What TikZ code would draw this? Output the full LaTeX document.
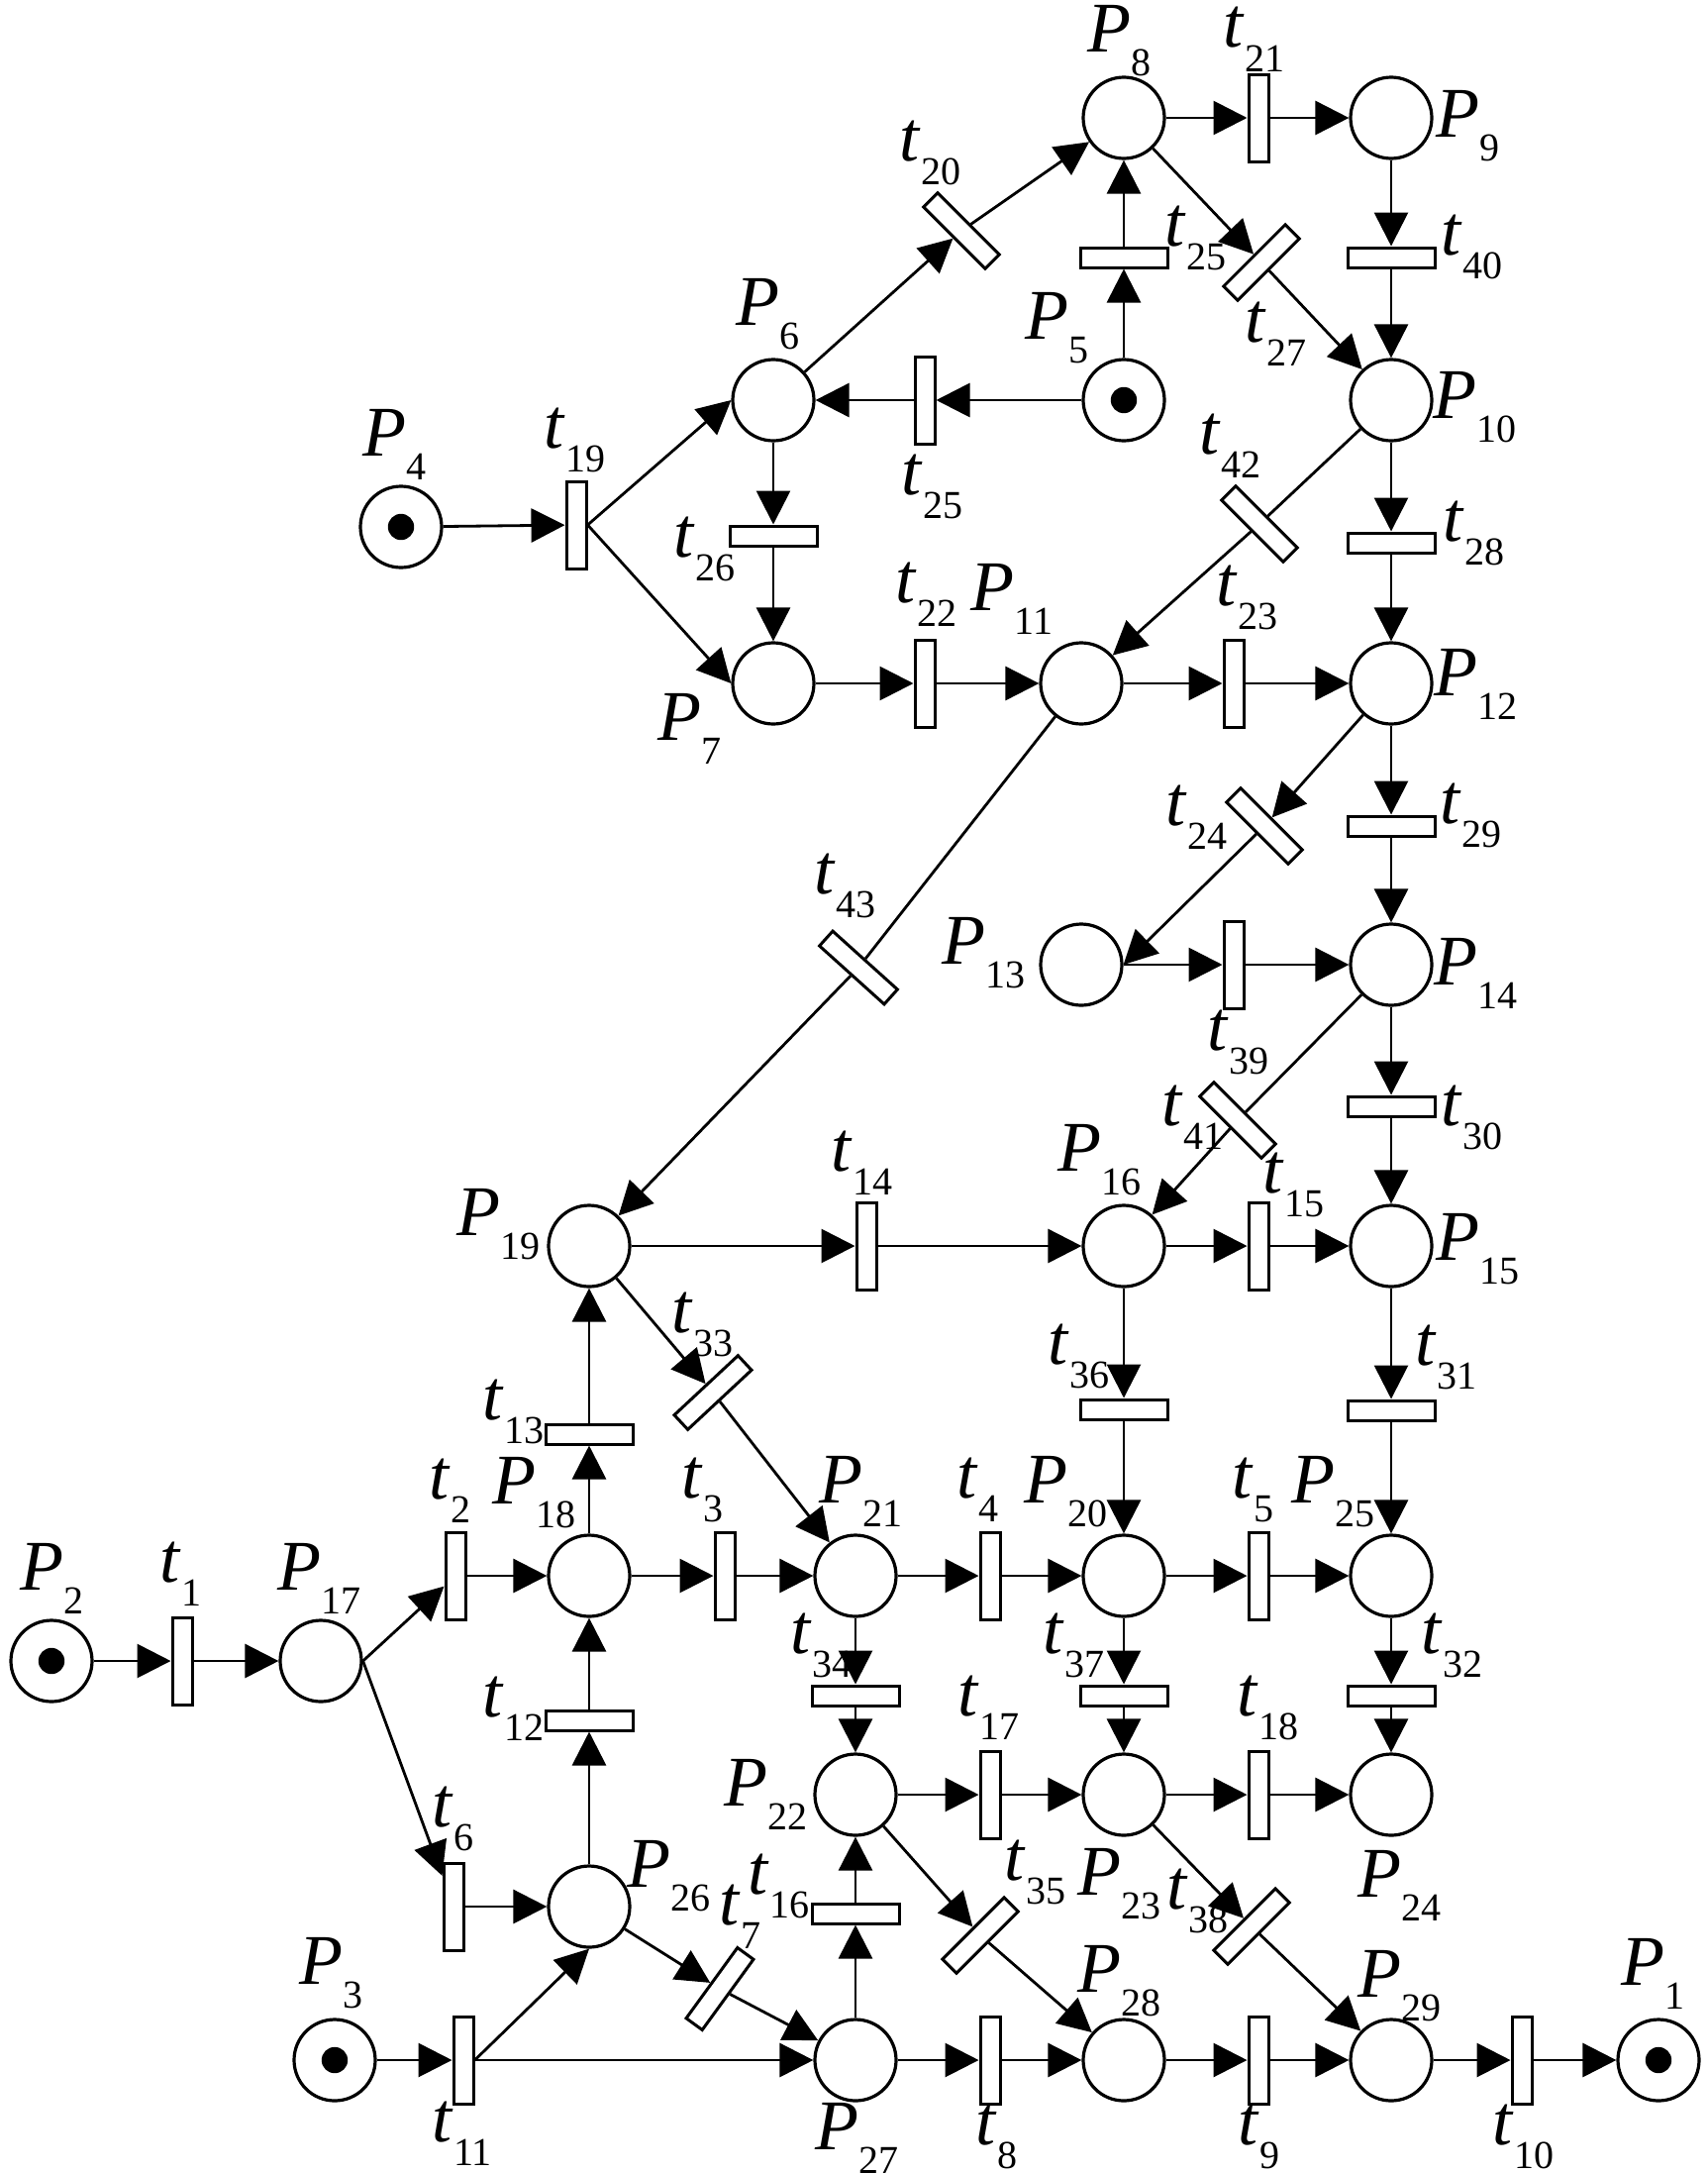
\documentclass[tikz,border=0pt]{standalone}
\usepackage{fontspec}
\setmainfont{Liberation Serif}
\usetikzlibrary{arrows.meta}

\newcommand{\plab}[1]{\textit{P}\raisebox{-6.2pt}{\fontsize{10}{11}\selectfont #1}}
\newcommand{\tlab}[1]{\textit{t}\raisebox{-6.2pt}{\fontsize{10}{11}\selectfont #1}}

\tikzset{
    place/.style = { circle, draw, line width = 0.8pt, minimum size = 20.5pt, inner sep = 0pt },
    vtr/.style = { rectangle, draw, line width = 0.75pt, minimum width = 5pt, minimum height = 22pt, inner sep = 0pt },
    htr/.style = { vtr, minimum width = 22pt, minimum height = 5pt },
    dtr/.style = { htr, rotate = #1 },
    arc/.style = { -{Triangle[length=8.5pt,width=8.5pt]}, line width = 0.7pt },
    bare/.style = { line width = 0.7pt },
    lbl/.style = { anchor = base west, inner sep = 0pt, font = \fontsize{18}{21}\selectfont }
}

\begin{document}
\begin{tikzpicture}[ x = 0.25pt, y = -0.25pt ]
        \useasboundingbox ( 0, 0 ) rectangle ( 1724, 2195 );

        % позиции
        \node [place] (P1) at ( 1675, 2080 ) {};
        \node [place] (P2) at ( 52, 1677 ) {};
        \node [place] (P3) at ( 338, 2080 ) {};
        \node [place] (P4) at ( 405, 532 ) {};
        \node [place] (P5) at ( 1135, 404 ) {};
        \node [place] (P6) at ( 781, 404 ) {};
        \node [place] (P7) at ( 781, 690 ) {};
        \node [place] (P8) at ( 1135, 119 ) {};
        \node [place] (P9) at ( 1405, 119 ) {};
        \node [place] (P10) at ( 1405, 404 ) {};
        \node [place] (P11) at ( 1092, 690 ) {};
        \node [place] (P12) at ( 1405, 690 ) {};
        \node [place] (P13) at ( 1092, 974 ) {};
        \node [place] (P14) at ( 1405, 974 ) {};
        \node [place] (P15) at ( 1405, 1258 ) {};
        \node [place] (P16) at ( 1135, 1258 ) {};
        \node [place] (P17) at ( 324, 1677 ) {};
        \node [place] (P18) at ( 595, 1591 ) {};
        \node [place] (P19) at ( 595, 1258 ) {};
        \node [place] (P20) at ( 1135, 1591 ) {};
        \node [place] (P21) at ( 864, 1591 ) {};
        \node [place] (P22) at ( 864, 1812 ) {};
        \node [place] (P23) at ( 1135, 1812 ) {};
        \node [place] (P24) at ( 1405, 1812 ) {};
        \node [place] (P25) at ( 1405, 1591 ) {};
        \node [place] (P26) at ( 595, 1925 ) {};
        \node [place] (P27) at ( 864, 2080 ) {};
        \node [place] (P28) at ( 1135, 2080 ) {};
        \node [place] (P29) at ( 1405, 2080 ) {};

        % метки (фишки)
        \fill (P1.center) circle [ radius = 3.3pt ];
        \fill (P2.center) circle [ radius = 3.3pt ];
        \fill (P3.center) circle [ radius = 3.3pt ];
        \fill (P4.center) circle [ radius = 3.3pt ];
        \fill (P5.center) circle [ radius = 3.3pt ];

        % переходы
        \node [vtr] (t1) at ( 184, 1677 ) {};
        \node [vtr] (t2) at ( 460, 1591 ) {};
        \node [vtr] (t3) at ( 732, 1591 ) {};
        \node [vtr] (t4) at ( 1000, 1591 ) {};
        \node [vtr] (t5) at ( 1271, 1591 ) {};
        \node [vtr] (t6) at ( 458, 1925 ) {};
        \node [dtr = 54] (t7) at ( 727, 2008 ) {};
        \node [vtr] (t8) at ( 1000, 2080 ) {};
        \node [vtr] (t9) at ( 1271, 2080 ) {};
        \node [vtr] (t10) at ( 1537, 2080 ) {};
        \node [vtr] (t11) at ( 468, 2080 ) {};
        \node [htr] (t12) at ( 595, 1737 ) {};
        \node [htr] (t13) at ( 595, 1448 ) {};
        \node [vtr] (t14) at ( 875, 1258 ) {};
        \node [vtr] (t15) at ( 1271, 1258 ) {};
        \node [htr] (t16) at ( 864, 1932 ) {};
        \node [vtr] (t17) at ( 1000, 1812 ) {};
        \node [vtr] (t18) at ( 1271, 1812 ) {};
        \node [vtr] (t19) at ( 582, 530 ) {};
        \node [dtr = -45] (t20) at ( 971, 233 ) {};
        \node [vtr] (t21) at ( 1271, 119 ) {};
        \node [vtr] (t22) at ( 934, 690 ) {};
        \node [vtr] (t23) at ( 1246, 690 ) {};
        \node [dtr = -45] (t24) at ( 1277, 834 ) {};
        \node [htr] (t25a) at ( 1135, 260 ) {};
        \node [vtr] (t25b) at ( 934, 404 ) {};
        \node [htr] (t26) at ( 781, 541 ) {};
        \node [dtr = 45] (t27) at ( 1274, 265 ) {};
        \node [htr] (t28) at ( 1405, 548 ) {};
        \node [htr] (t29) at ( 1405, 834 ) {};
        \node [htr] (t30) at ( 1405, 1117 ) {};
        \node [htr] (t31) at ( 1405, 1424 ) {};
        \node [htr] (t32) at ( 1405, 1712 ) {};
        \node [dtr = 43] (t33) at ( 720, 1406 ) {};
        \node [htr] (t34) at ( 864, 1712 ) {};
        \node [dtr = 45] (t35) at ( 990, 1954 ) {};
        \node [htr] (t36) at ( 1135, 1423 ) {};
        \node [htr] (t37) at ( 1135, 1712 ) {};
        \node [dtr = 45] (t38) at ( 1264, 1945 ) {};
        \node [vtr] (t39) at ( 1246, 974 ) {};
        \node [htr] (t40) at ( 1405, 260 ) {};
        \node [dtr = -45] (t41) at ( 1250, 1131 ) {};
        \node [dtr = -45] (t42) at ( 1272, 529 ) {};
        \node [dtr = -42] (t43) at ( 867, 977 ) {};

        % дуги
        \draw [arc] (P2) -- (t1);
        \draw [arc] (t1) -- (P17);
        \draw [arc] (P17.east) -- (t2);
        \draw [arc] (t2) -- (P18);
        \draw [arc] (P17.east) -- (t6);
        \draw [arc] (t6) -- (P26);
        \draw [arc] (P18) -- (t3);
        \draw [arc] (t3) -- (P21);
        \draw [arc] (P21) -- (t4);
        \draw [arc] (t4) -- (P20);
        \draw [arc] (P20) -- (t5);
        \draw [arc] (t5) -- (P25);
        \draw [arc] (P3) -- (t11);
        \draw [arc] (t11.east) -- (P26.south);
        \draw [arc] (t11.east) -- (P27);
        \draw [arc] (P26) -- (t7);
        \draw [arc] (t7) -- (P27);
        \draw [arc] (P27) -- (t8);
        \draw [arc] (t8) -- (P28);
        \draw [arc] (P28) -- (t9);
        \draw [arc] (t9) -- (P29);
        \draw [arc] (P29) -- (t10);
        \draw [arc] (t10) -- (P1);
        \draw [arc] (P26) -- (t12);
        \draw [arc] (t12) -- (P18);
        \draw [arc] (P18) -- (t13);
        \draw [arc] (t13) -- (P19);
        \draw [arc] (P19) -- (t14);
        \draw [arc] (t14) -- (P16);
        \draw [arc] (P16) -- (t15);
        \draw [arc] (t15) -- (P15);
        \draw [arc] (P27) -- (t16);
        \draw [arc] (t16) -- (P22);
        \draw [arc] (P22) -- (t17);
        \draw [arc] (t17) -- (P23);
        \draw [arc] (P23) -- (t18);
        \draw [arc] (t18) -- (P24);
        \draw [arc] (P4) -- (t19);
        \draw [arc] (t19.east) -- (P6.west);
        \draw [arc] (t19.east) -- (P7.west);
        \draw [arc] (P6) -- (t20);
        \draw [arc] (t20) -- (P8);
        \draw [arc] (P8) -- (t21);
        \draw [arc] (t21) -- (P9);
        \draw [arc] (P7) -- (t22);
        \draw [arc] (t22) -- (P11);
        \draw [arc] (P11) -- (t23);
        \draw [arc] (t23) -- (P12);
        \draw [arc] (P12) -- (t24);
        \draw [arc] (t24) -- (P13.east);
        \draw [arc] (P5) -- (t25a);
        \draw [arc] (t25a) -- (P8);
        \draw [arc] (P5) -- (t25b);
        \draw [arc] (t25b) -- (P6);
        \draw [arc] (P6) -- (t26);
        \draw [arc] (t26) -- (P7);
        \draw [arc] (P8) -- (t27);
        \draw [arc] (t27) -- (P10);
        \draw [arc] (P10) -- (t28);
        \draw [arc] (t28) -- (P12);
        \draw [arc] (P12) -- (t29);
        \draw [arc] (t29) -- (P14);
        \draw [arc] (P14) -- (t30);
        \draw [arc] (t30) -- (P15);
        \draw [arc] (P15) -- (t31);
        \draw [arc] (t31) -- (P25);
        \draw [arc] (P25) -- (t32);
        \draw [arc] (t32) -- (P24);
        \draw [arc] (P19) -- (t33);
        \draw [arc] (t33) -- (P21);
        \draw [arc] (P21) -- (t34);
        \draw [arc] (t34) -- (P22);
        \draw [arc] (P22) -- (t35);
        \draw [arc] (t35) -- (P28);
        \draw [arc] (P16) -- (t36);
        \draw [arc] (t36) -- (P20);
        \draw [arc] (P20) -- (t37);
        \draw [arc] (t37) -- (P23);
        \draw [arc] (P23) -- (t38);
        \draw [arc] (t38) -- (P29);
        \draw [arc] (P13.east) -- (t39);
        \draw [arc] (t39) -- (P14);
        \draw [arc] (P9) -- (t40);
        \draw [arc] (t40) -- (P10);
        \draw [bare] (P14) -- (t41);
        \draw [arc] (t41) -- (P16);
        \draw [bare] (P10) -- (t42);
        \draw [arc] (t42) -- (P11);
        \draw [bare] (P11) -- (t43);
        \draw [arc] (t43) -- (P19);

        % подписи
        \node [lbl] (lP1) at ( 1637, 2004 ) {\plab{1}};
        \node [lbl] (lP2) at ( 20, 1605 ) {\plab{2}};
        \node [lbl] (lP3) at ( 302, 2003 ) {\plab{3}};
        \node [lbl] (lP4) at ( 366, 460 ) {\plab{4}};
        \node [lbl] (lP5) at ( 1035, 342 ) {\plab{5}};
        \node [lbl] (lP6) at ( 743, 328 ) {\plab{6}};
        \node [lbl] (lP7) at ( 664, 747 ) {\plab{7}};
        \node [lbl] (lP8) at ( 1098, 52 ) {\plab{8}};
        \node [lbl] (lP9) at ( 1450, 138 ) {\plab{9}};
        \node [lbl] (lP10) at ( 1447, 422 ) {\plab{10}};
        \node [lbl] (lP11) at ( 980, 616 ) {\plab{11}};
        \node [lbl] (lP12) at ( 1448, 702 ) {\plab{12}};
        \node [lbl] (lP13) at ( 951, 973 ) {\plab{13}};
        \node [lbl] (lP14) at ( 1448, 994 ) {\plab{14}};
        \node [lbl] (lP15) at ( 1450, 1272 ) {\plab{15}};
        \node [lbl] (lP16) at ( 1068, 1182 ) {\plab{16}};
        \node [lbl] (lP17) at ( 280, 1605 ) {\plab{17}};
        \node [lbl] (lP18) at ( 497, 1518 ) {\plab{18}};
        \node [lbl] (lP19) at ( 461, 1247 ) {\plab{19}};
        \node [lbl] (lP20) at ( 1034, 1517 ) {\plab{20}};
        \node [lbl] (lP21) at ( 827, 1517 ) {\plab{21}};
        \node [lbl] (lP22) at ( 731, 1823 ) {\plab{22}};
        \node [lbl] (lP23) at ( 1088, 1913 ) {\plab{23}};
        \node [lbl] (lP24) at ( 1371, 1915 ) {\plab{24}};
        \node [lbl] (lP25) at ( 1304, 1517 ) {\plab{25}};
        \node [lbl] (lP26) at ( 633, 1905 ) {\plab{26}};
        \node [lbl] (lP27) at ( 823, 2170 ) {\plab{27}};
        \node [lbl] (lP28) at ( 1088, 2011 ) {\plab{28}};
        \node [lbl] (lP29) at ( 1371, 2016 ) {\plab{29}};

        \node [lbl] (lt1) at ( 161, 1597 ) {\tlab{1}};
        \node [lbl] (lt2) at ( 433, 1513 ) {\tlab{2}};
        \node [lbl] (lt3) at ( 688, 1512 ) {\tlab{3}};
        \node [lbl] (lt4) at ( 966, 1512 ) {\tlab{4}};
        \node [lbl] (lt5) at ( 1244, 1512 ) {\tlab{5}};
        \node [lbl] (lt6) at ( 436, 1844 ) {\tlab{6}};
        \node [lbl] (lt7) at ( 726, 1943 ) {\tlab{7}};
        \node [lbl] (lt8) at ( 985, 2165 ) {\tlab{8}};
        \node [lbl] (lt9) at ( 1250, 2165 ) {\tlab{9}};
        \node [lbl] (lt10) at ( 1507, 2165 ) {\tlab{10}};
        \node [lbl] (lt11) at ( 436, 2162 ) {\tlab{11}};
        \node [lbl] (lt12) at ( 487, 1733 ) {\tlab{12}};
        \node [lbl] (lt13) at ( 487, 1433 ) {\tlab{13}};
        \node [lbl] (lt14) at ( 839, 1182 ) {\tlab{14}};
        \node [lbl] (lt15) at ( 1275, 1204 ) {\tlab{15}};
        \node [lbl] (lt16) at ( 755, 1912 ) {\tlab{16}};
        \node [lbl] (lt17) at ( 967, 1732 ) {\tlab{17}};
        \node [lbl] (lt18) at ( 1249, 1732 ) {\tlab{18}};
        \node [lbl] (lt19) at ( 549, 452 ) {\tlab{19}};
        \node [lbl] (lt20) at ( 908, 162 ) {\tlab{20}};
        \node [lbl] (lt21) at ( 1235, 48 ) {\tlab{21}};
        \node [lbl] (lt22) at ( 904, 608 ) {\tlab{22}};
        \node [lbl] (lt23) at ( 1228, 611 ) {\tlab{23}};
        \node [lbl] (lt24) at ( 1177, 833 ) {\tlab{24}};
        \node [lbl] (lt25a) at ( 1176, 248 ) {\tlab{25}};
        \node [lbl] (lt25b) at ( 910, 499 ) {\tlab{25}};
        \node [lbl] (lt26) at ( 680, 562 ) {\tlab{26}};
        \node [lbl] (lt27) at ( 1257, 345 ) {\tlab{27}};
        \node [lbl] (lt28) at ( 1457, 546 ) {\tlab{28}};
        \node [lbl] (lt29) at ( 1454, 831 ) {\tlab{29}};
        \node [lbl] (lt30) at ( 1455, 1136 ) {\tlab{30}};
        \node [lbl] (lt31) at ( 1429, 1378 ) {\tlab{31}};
        \node [lbl] (lt32) at ( 1435, 1669 ) {\tlab{32}};
        \node [lbl] (lt33) at ( 678, 1345 ) {\tlab{33}};
        \node [lbl] (lt34) at ( 798, 1669 ) {\tlab{34}};
        \node [lbl] (lt35) at ( 1014, 1898 ) {\tlab{35}};
        \node [lbl] (lt36) at ( 1058, 1377 ) {\tlab{36}};
        \node [lbl] (lt37) at ( 1053, 1669 ) {\tlab{37}};
        \node [lbl] (lt38) at ( 1178, 1927 ) {\tlab{38}};
        \node [lbl] (lt39) at ( 1219, 1060 ) {\tlab{39}};
        \node [lbl] (lt40) at ( 1455, 257 ) {\tlab{40}};
        \node [lbl] (lt41) at ( 1173, 1136 ) {\tlab{41}};
        \node [lbl] (lt42) at ( 1211, 458 ) {\tlab{42}};
        \node [lbl] (lt43) at ( 822, 902 ) {\tlab{43}};
\end{tikzpicture}
\end{document}
